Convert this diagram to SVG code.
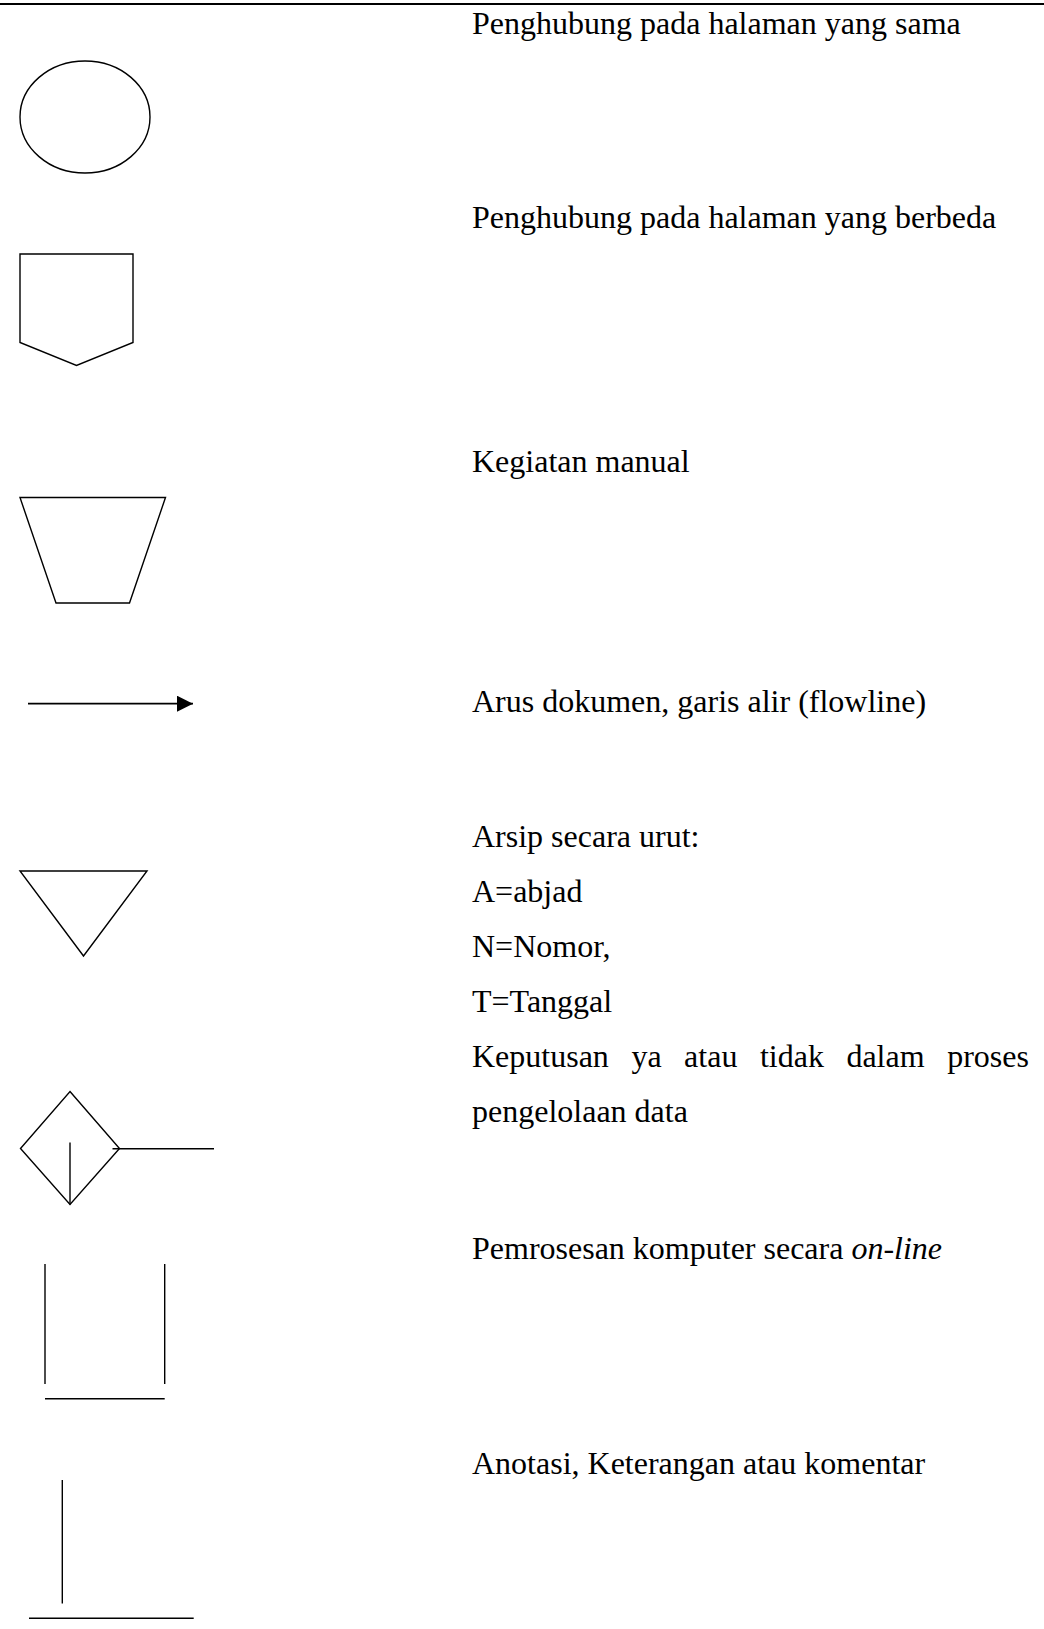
<svg xmlns="http://www.w3.org/2000/svg" width="1044" height="1629" viewBox="0 0 1044 1629">
  <defs>
    <style>
      .shape { fill: none; stroke: #000; stroke-width: 1.4; stroke-linejoin: miter; }
      .lbl { font-family: "Liberation Serif", "Times New Roman", serif; font-size: 32px; fill: #000; }
    </style>
    <marker id="arrowhead" markerUnits="userSpaceOnUse" markerWidth="16" markerHeight="16" refX="16" refY="8" orient="auto">
      <path d="M0,0 L16,8 L0,16 Z" fill="#000"/>
    </marker>
  </defs>
  <rect x="0" y="0" width="1044" height="1629" fill="#fff"/>

  <line id="top-rule" x1="0" y1="4" x2="1044" y2="4" stroke="#000" stroke-width="2"/>

  <g id="on-page-connector">
    <ellipse class="shape" cx="85" cy="117" rx="65" ry="56"/>
    <text class="lbl" x="472" y="34">Penghubung pada halaman yang sama</text>
  </g>

  <g id="off-page-connector">
    <polygon class="shape" points="20,254 133,254 133,342.5 76.5,365.5 20,342.5"/>
    <text class="lbl" x="472" y="228">Penghubung pada halaman yang berbeda</text>
  </g>

  <g id="manual-operation">
    <polygon class="shape" points="20,497.5 165.5,497.5 129.5,603 56,603"/>
    <text class="lbl" x="472" y="472">Kegiatan manual</text>
  </g>

  <g id="connectors">
    <g id="flowline">
      <line x1="28" y1="703.7" x2="193" y2="703.7" stroke="#000" stroke-width="1.7" marker-end="url(#arrowhead)"/>
    </g>
  </g>
  <g id="flowline-label">
    <text class="lbl" x="472" y="712">Arus dokumen, garis alir (flowline)</text>
  </g>

  <g id="offline-file">
    <polygon class="shape" points="20,871 147,871 83.5,956"/>
    <text class="lbl" x="472" y="846.5">Arsip secara urut:</text>
    <text class="lbl" x="472" y="901.5">A=abjad</text>
    <text class="lbl" x="472" y="956.5">N=Nomor,</text>
    <text class="lbl" x="472" y="1011.5">T=Tanggal</text>
  </g>

  <g id="decision">
    <polygon class="shape" points="70,1091.5 119.5,1148.5 70,1204.5 20.5,1148.5"/>
    <line class="shape" x1="70" y1="1142.5" x2="70" y2="1204.5"/>
    <line class="shape" x1="112.5" y1="1148.7" x2="214" y2="1148.7"/>
    <text class="lbl" y="1066.5"><tspan x="472">Keputusan</tspan><tspan x="631.4">ya</tspan><tspan x="684.1">atau</tspan><tspan x="759.9">tidak</tspan><tspan x="846.4">dalam</tspan><tspan x="947.2">proses</tspan></text>
    <text class="lbl" x="472" y="1121.5">pengelolaan data</text>
  </g>

  <g id="online-process">
    <line class="shape" x1="45" y1="1264" x2="45" y2="1384"/>
    <line class="shape" x1="164.7" y1="1264" x2="164.7" y2="1384"/>
    <line class="shape" x1="45" y1="1398.7" x2="164.7" y2="1398.7"/>
    <text class="lbl" x="472" y="1258.5">Pemrosesan komputer secara <tspan font-style="italic">on-line</tspan></text>
  </g>

  <g id="annotation">
    <line class="shape" x1="62.3" y1="1480" x2="62.3" y2="1603.5"/>
    <line class="shape" x1="29" y1="1618.3" x2="193.7" y2="1618.3"/>
    <text class="lbl" x="472" y="1473.5">Anotasi, Keterangan atau komentar</text>
  </g>
</svg>
